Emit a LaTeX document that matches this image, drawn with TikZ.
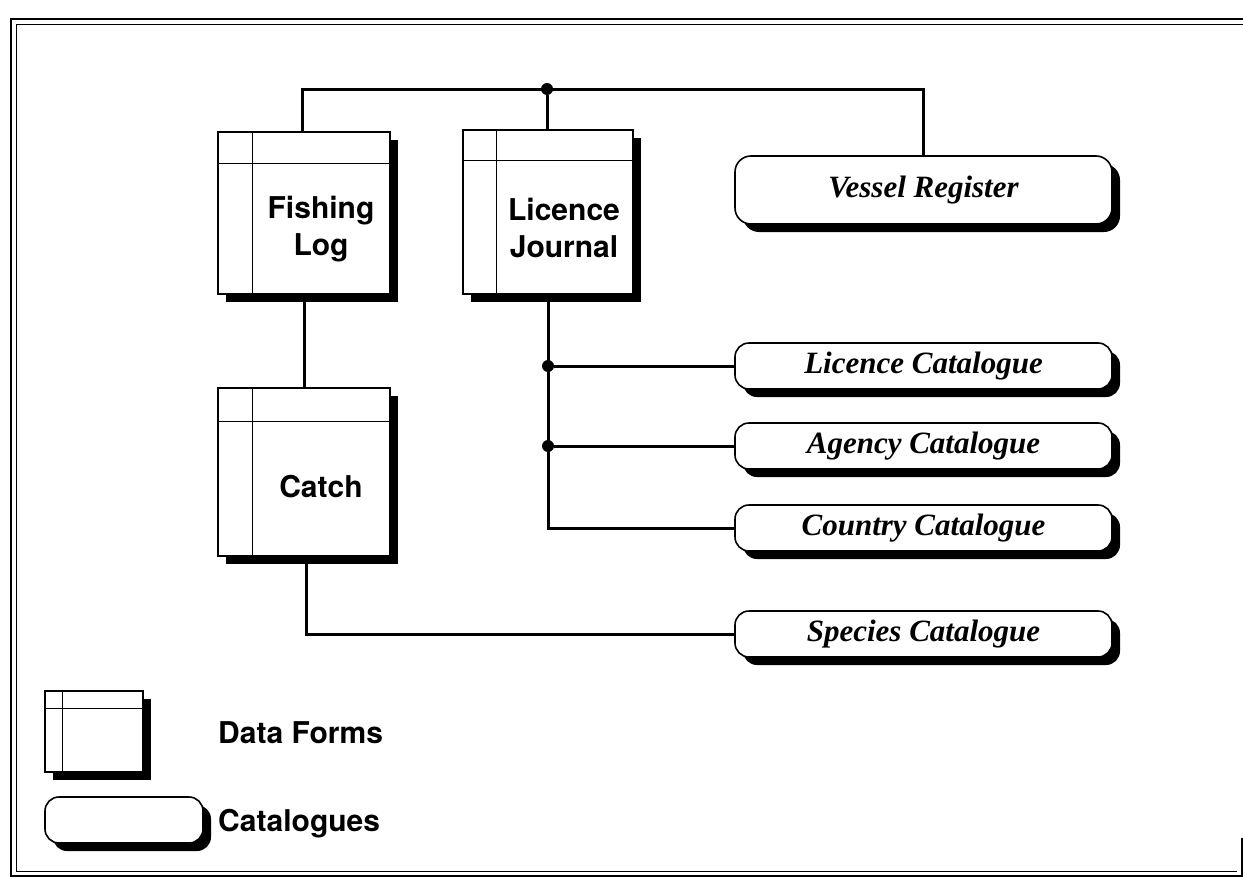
\documentclass[tikz,border=0pt]{standalone}
\usepackage{fontspec}
\newfontfamily\formfont{TeX Gyre Heros}
\newfontfamily\catfont{Liberation Serif}
\usetikzlibrary{shadows}
\begin{document}
\begin{tikzpicture}[x=1pt,y=-1pt,
  conn/.style={line width=3pt},
  rule/.style={line width=1.2pt},
  boxshadow/.style={drop shadow={shadow xshift=8pt, shadow yshift=-8pt, opacity=1, fill=black}},
  formbox/.style={draw, line width=1.6pt, fill=white, rectangle, inner sep=0pt, boxshadow},
  catbox/.style={draw, line width=1.6pt, fill=white, rectangle, rounded corners=14pt,
    inner sep=0pt, minimum width=377pt, minimum height=46pt, boxshadow,
    font=\catfont\bfseries\itshape\fontsize{31}{36}\selectfont},
  formlabel/.style={font=\formfont\bfseries\fontsize{30}{37}\selectfont, align=center, inner sep=0pt},
  junction/.style={circle, fill=black, inner sep=0pt, minimum size=12pt},
]
\useasboundingbox (0,0) rectangle (1243,878);

% page frame (double rule)
\draw[line width=2.2pt] (1243,19) -- (11,19) -- (11,876) -- (1242,876) -- (1242,838);
\draw[line width=1pt] (1243,24) -- (16,24) -- (16,871) -- (1237,871);

% data forms
\node[formbox, minimum width=172pt, minimum height=162pt] (fl) at (304,213) {};
\node[formbox, minimum width=170pt, minimum height=164pt] (lj) at (548,212) {};
\node[formbox, minimum width=172pt, minimum height=168pt] (catch) at (304,472) {};
\foreach \f/\dx/\dy in {fl/35/32, lj/34/31, catch/35/34}{
  \draw[rule] ([xshift=\dx pt]\f.north west) -- ([xshift=\dx pt]\f.south west);
  \draw[rule] ([yshift=-\dy pt]\f.north west) -- ([yshift=-\dy pt]\f.north east);
}
\node[formlabel] (fltext) at (321,229) {Fishing\\Log};
\node[formlabel] (ljtext) at (564,228) {Licence\\Journal};
\node[formlabel] (catchtext) at (321,487) {Catch};

% catalogues
\node[catbox, minimum height=68pt, rounded corners=16pt] (vr) at (923.5,190) {Vessel Register};
\node[catbox] (lc) at (923.5,366) {Licence Catalogue};
\node[catbox] (ac) at (923.5,446) {Agency Catalogue};
\node[catbox] (cc) at (923.5,528) {Country Catalogue};
\node[catbox] (sc) at (923.5,634) {Species Catalogue};

% connectors
\node[junction] (top) at (547,89) {};
\coordinate (busl) at (302,89);
\coordinate (busr) at (923,89);
\draw[conn] ([xshift=-2pt]fl.north) -- (busl) -- (busr) -- (busr |- vr.north);
\draw[conn] (top) -- (top |- lj.north);
\draw[conn] (fl.south) -- (catch.south |- catch.north);
\draw[conn] (lj.south) |- (cc.west);
\node[junction] (j1) at (lj.south |- lc.west) {};
\node[junction] (j2) at (lj.south |- ac.west) {};
\draw[conn] (j1) -- (lc.west);
\draw[conn] (j2) -- (ac.west);
\draw[conn] ([xshift=2pt]catch.south) |- (sc.west);

% legend
\node[formbox, minimum width=98pt, minimum height=81pt] (legform) at (94,731.5) {};
\draw[rule] ([xshift=18pt]legform.north west) -- ([xshift=18pt]legform.south west);
\draw[rule] ([yshift=-18pt]legform.north west) -- ([yshift=-18pt]legform.north east);
\node[catbox, minimum width=158pt] (legcat) at (124,820) {};
\node[formlabel, anchor=base west] (legformtext) at (218,743) {Data Forms};
\node[formlabel, anchor=base west] (legcattext) at (218,831) {Catalogues};
\end{tikzpicture}
\end{document}
